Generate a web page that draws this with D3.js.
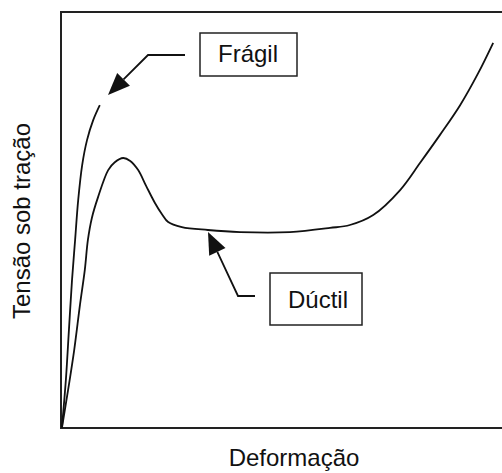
<!DOCTYPE html>
<html>
<head>
<meta charset="utf-8">
<script src="https://cdn.jsdelivr.net/npm/d3@7"></script>
<style>
  body { margin: 0; background: #fff; }
  text { font-family: "Liberation Sans", Arial, sans-serif; fill: #111; }
</style>
</head>
<body>
<script>
// curves (deformation %, stress %)
var fragilX = [0.2, 1.1, 1.8, 2.5, 3.2, 3.9, 4.8, 5.9, 7.3, 8.8];
var fragilY = [0, 11.5, 23.6, 35.6, 45.2, 54.8, 63.2, 69.2, 74.0, 77.6];

var ductilX = [0.2, 1.6, 3.0, 4.3, 5.4, 6.1, 7.0, 8.4, 10.7, 12.2, 14.1, 15.7, 17.5, 19.3, 21.3, 22.9, 24.3, 27.4, 33.3, 40.6, 51.9, 61.0, 65.5, 70.8, 76.9, 81.4, 85.9, 90.5, 94.6, 98.0];
var ductilY = [0, 9.1, 18.8, 29.6, 38.0, 45.2, 50.5, 55.5, 62.0, 63.9, 64.9, 64.2, 62.0, 58.2, 54.1, 51.4, 49.5, 48.3, 47.6, 47.1, 47.1, 48.1, 48.8, 51.2, 57.2, 63.7, 70.4, 77.6, 85.3, 92.6];

var labels = ["Frágil", "Dúctil"];
var xTitle = "Deformação", yTitle = "Tensão sob tração";

var W = 502, H = 473;
var mLeft = 61, mTop = 12, mBottom = 428, mRight = 502;

var x = d3.scaleLinear().domain([0, 100]).range([mLeft, mLeft + 441]);
var y = d3.scaleLinear().domain([0, 100]).range([mBottom, mBottom - 416]);

var svg = d3.select("body").append("svg")
    .attr("width", W).attr("height", H);

// frame (right side runs off the picture)
svg.append("rect")
    .attr("x", mLeft).attr("y", mTop)
    .attr("width", mRight - mLeft + 10).attr("height", mBottom - mTop)
    .attr("fill", "none").attr("stroke", "#222").attr("stroke-width", 2);

var line = d3.line()
    .x(d => x(d[0]))
    .y(d => y(d[1]))
    .curve(d3.curveCatmullRom);

[[fragilX, fragilY], [ductilX, ductilY]].forEach(s => {
  svg.append("path")
    .datum(d3.zip(s[0], s[1]))
    .attr("d", line)
    .attr("fill", "none")
    .attr("stroke", "#111")
    .attr("stroke-width", 1.8);
});

// label boxes with bent arrows
var notes = [
  { box: [200, 33, 97, 43], tx: 248, ty: 62, pts: [[185, 55], [148, 55], [108, 95]] },
  { box: [270, 273, 92, 52], tx: 318, ty: 308, pts: [[255, 296], [238, 296], [208, 232]] }
];

notes.forEach((n, i) => {
  svg.append("rect")
    .attr("x", n.box[0]).attr("y", n.box[1])
    .attr("width", n.box[2]).attr("height", n.box[3])
    .attr("fill", "#fff").attr("stroke", "#222").attr("stroke-width", 1.5);
  svg.append("text")
    .attr("x", n.tx).attr("y", n.ty)
    .attr("text-anchor", "middle")
    .style("font-size", "24px")
    .text(labels[i]);

  var p = n.pts, tip = p[2], prev = p[1];
  var dx = tip[0] - prev[0], dy = tip[1] - prev[1];
  var len = Math.hypot(dx, dy), ux = dx / len, uy = dy / len;
  var hl = 22, hw = 9;
  var base = [tip[0] - ux * hl, tip[1] - uy * hl];
  svg.append("path")
    .attr("d", d3.line()([p[0], p[1], base]))
    .attr("fill", "none").attr("stroke", "#111").attr("stroke-width", 1.8);
  svg.append("path")
    .attr("d", d3.line()([tip,
      [base[0] - uy * hw, base[1] + ux * hw],
      [base[0] + uy * hw, base[1] - ux * hw]]) + "Z")
    .attr("fill", "#111");
});

svg.append("text")
  .attr("x", 294).attr("y", 466)
  .attr("text-anchor", "middle")
  .style("font-size", "24px")
  .text(xTitle);

svg.append("text")
  .attr("transform", "translate(30,221) rotate(-90)")
  .attr("text-anchor", "middle")
  .style("font-size", "24px")
  .text(yTitle);
</script>
</body>
</html>
